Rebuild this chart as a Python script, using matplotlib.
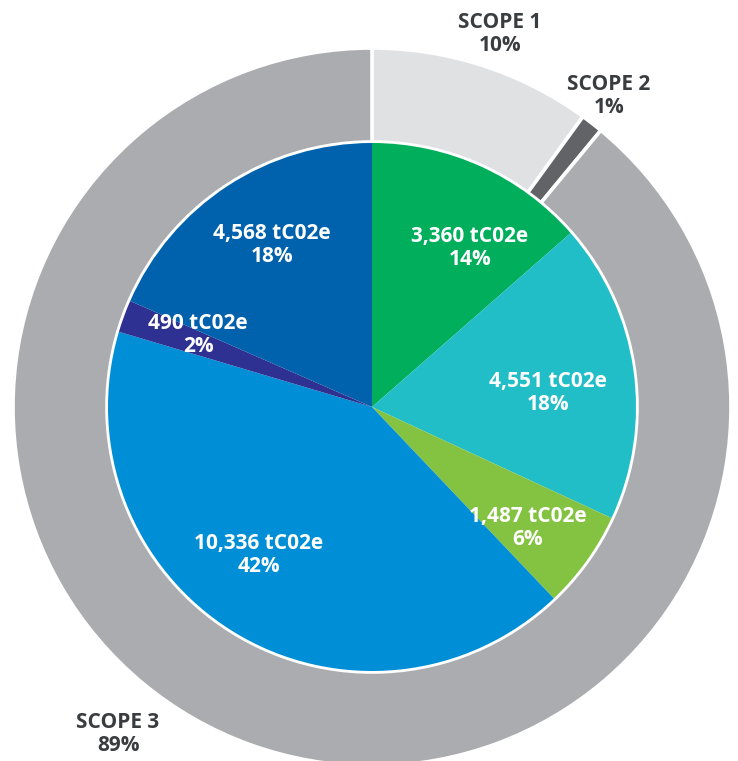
import matplotlib.pyplot as plt

# outer ring: emission scopes (percent)
scope_labels = ['SCOPE 1', 'SCOPE 2', 'SCOPE 3']
scope_share = [10, 1, 89]
scope_colors = ['#e0e1e3', '#626366', '#abacaf']

# inner pie: emission sources (tCO2e)
source_tonnes = [3360, 4551, 1487, 10336, 490, 4568]
source_share = [14, 18, 6, 42, 2, 18]
source_colors = ['#00ae5c', '#21bec8', '#84c341', '#008ed6', '#2e3192', '#0061ad']

# label anchor points in pixels (x, y from top)
source_label_pos = [(470, 248), (548, 393), (528, 528), (259, 555), (198, 335), (272, 245)]
scope_label_pos = [(500, 34), (609, 96), (118, 734)]

W, H = 738, 761
cx, cy = 372, H - 407
r_out, r_in = 359, 265

fig = plt.figure(figsize=(W / 100, H / 100), dpi=100)
ax = fig.add_axes([0, 0, 1, 1])

ax.pie(scope_share, colors=scope_colors, radius=r_out, center=(cx, cy),
       startangle=90, counterclock=False,
       wedgeprops=dict(width=r_out - r_in, edgecolor='white', linewidth=2.6))
ax.pie(source_tonnes, colors=source_colors, radius=r_in - 1, center=(cx, cy),
       startangle=90, counterclock=False,
       wedgeprops=dict(edgecolor='none', linewidth=0))

# pie() resets the limits, so set them afterwards
ax.set_xlim(0, W)
ax.set_ylim(0, H)
ax.set_aspect('equal')
ax.axis('off')

font = dict(family=['Open Sans', 'DejaVu Sans'], fontweight='bold', fontsize=15)

for t, p, (x, y) in zip(source_tonnes, source_share, source_label_pos):
    ax.text(x, H - y, f'{t:,} tC02e\n{p}%', color='white', ha='center',
            va='center', linespacing=1.1, **font)

for lab, p, (x, y) in zip(scope_labels, scope_share, scope_label_pos):
    ax.text(x, H - y, f'{lab}\n{p}%', color='#3a3d40', ha='center',
            va='center', linespacing=1.1, **font)

fig.savefig('out.png', dpi=100)
